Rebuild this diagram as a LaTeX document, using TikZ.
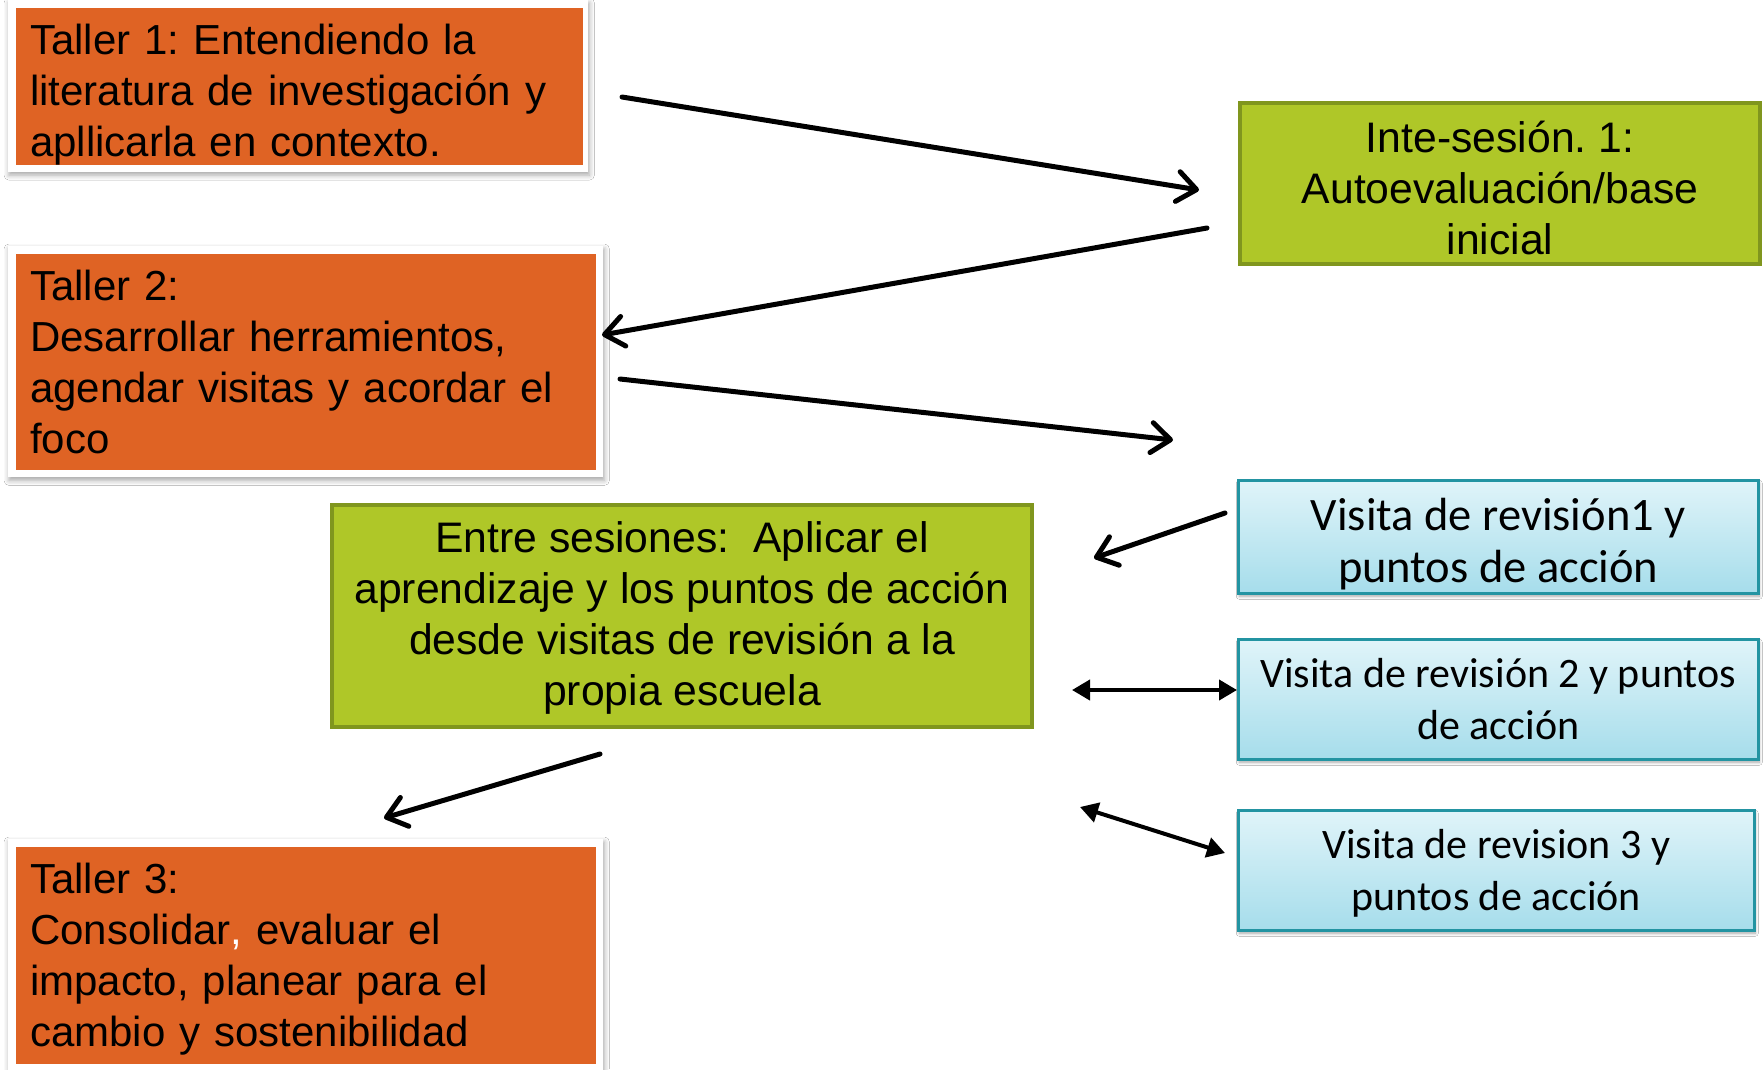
\documentclass[tikz,border=0pt]{standalone}
\usepackage{fontspec}
\setmainfont{Liberation Sans}
\newfontfamily\calibrifont{Carlito}
\usetikzlibrary{arrows.meta, shadows.blur, backgrounds}
\definecolor{tallerorange}{RGB}{223,99,36}
\definecolor{sesiongreen}{RGB}{175,199,40}
\definecolor{sesionborder}{RGB}{128,150,30}
\definecolor{visitatop}{RGB}{224,244,249}
\definecolor{visitabottom}{RGB}{166,221,235}
\definecolor{visitaborder}{RGB}{35,148,162}
\newcommand{\firstline}[1]{\rule{0pt}{#1}}
\frenchspacing
\begin{document}
\begin{tikzpicture}[x=1pt, y=-1pt,
    taller/.style={fill=tallerorange, anchor=north west, align=left, inner xsep=14pt, inner ysep=0pt,
        font=\fontsize{42}{51}\selectfont},
    sesion/.style={fill=sesiongreen, draw=sesionborder, line width=4pt, anchor=north west, align=center,
        inner sep=0pt, font=\fontsize{42.7}{51}\selectfont},
    visita/.style={top color=visitatop, bottom color=visitabottom, draw=visitaborder, line width=2.5pt,
        anchor=north west, align=center, inner sep=0pt, font=\calibrifont\fontsize{42}{52}\selectfont,
        blur shadow={shadow xshift=1pt, shadow yshift=-3pt, shadow blur radius=3pt, shadow opacity=35}},
    frame/.style={fill=white, blur shadow={shadow xshift=1pt, shadow yshift=-3pt, shadow blur radius=5pt, shadow opacity=35}},
    flow/.style={line width=5pt, line cap=round, -{Straight Barb[length=19pt, width=30pt, round]}},
    both/.style={line width=4pt, {Triangle[length=18pt, width=20pt]}-{Triangle[length=18pt, width=20pt]}}]
    \useasboundingbox (0, 0) rectangle (1764, 1069);

    % Nodes
    \node[taller, text width=539pt, minimum height=156pt] at (16, 8) (t1)
        {\firstline{46pt}Taller 1: Entendiendo la\\literatura de investigación y\\apllicarla en contexto.};
    \node[taller, text width=552pt, minimum height=216pt] at (16, 254) (t2)
        {Taller 2:\\Desarrollar herramientos,\\agendar visitas y acordar el\\foco};
    \node[taller, text width=552pt, minimum height=217pt] at (16, 847) (t3)
        {\firstline{37pt}Taller 3:\\Consolidar{\color{white},} evaluar el\\impacto, planear para el\\cambio y sostenibilidad};
    \node[sesion, minimum width=520pt, minimum height=161pt] at (1238, 101) (inte)
        {\firstline{40pt}Inte-sesión. 1:\\Autoevaluación/base\\inicial};
    \node[sesion, minimum width=700pt, minimum height=222pt] at (330, 503) (entre)
        {\firstline{35pt}Entre sesiones:\ \ Aplicar el\\aprendizaje y los puntos de acción\\desde visitas de revisión a la\\propia escuela};
    \node[visita, minimum width=520pt, minimum height=113pt, font=\calibrifont\fontsize{46.5}{52}\selectfont] at (1237, 479) (v1)
        {\firstline{46pt}Visita de revisión1 y\\puntos de acción};
    \node[visita, minimum width=520pt, minimum height=120pt] at (1237, 638) (v2)
        {Visita de revisión 2 y puntos\\de acción};
    \node[visita, minimum width=516pt, minimum height=120pt] at (1237, 809) (v3)
        {\firstline{34.5pt}Visita de revision 3 y\\puntos de acción};

    % Frames
    \begin{scope}[on background layer]
        \fill[white] (0, 0) rectangle (1764, 1069);
        \fill[frame] ([shift={(-8,-8)}]t1.north west) rectangle ([shift={(5,7)}]t1.south east);
        \fill[frame] ([shift={(-8,-8)}]t2.north west) rectangle ([shift={(7,7)}]t2.south east);
        \fill[frame] ([shift={(-8,-8)}]t3.north west) rectangle ([shift={(7,7)}]t3.south east);
    \end{scope}

    % Arrow ends
    \coordinate (t1out) at (622, 97);
    \coordinate (intein) at (1199, 190);
    \coordinate (inteout) at (1207, 228);
    \coordinate (t2in) at (602, 335);
    \coordinate (t2out) at (620, 379);
    \coordinate (gapin) at (1173, 440);
    \coordinate (v1out) at (1225, 513);
    \coordinate (entrein) at (1094, 558);
    \coordinate (entrev2) at (1072, 690);
    \coordinate (v2in) at (1237, 690);
    \coordinate (entrev3) at (1080, 807);
    \coordinate (v3in) at (1225, 853);
    \coordinate (entreout) at (600, 754);
    \coordinate (t3in) at (384, 818);

    % Edges
    \draw[flow] (t1out) -- (intein);
    \draw[flow] (inteout) -- (t2in);
    \draw[flow] (t2out) -- (gapin);
    \draw[flow] (v1out) -- (entrein);
    \draw[both] (entrev2) -- (v2in);
    \draw[both] (entrev3) -- (v3in);
    \draw[flow] (entreout) -- (t3in);
\end{tikzpicture}
\end{document}
